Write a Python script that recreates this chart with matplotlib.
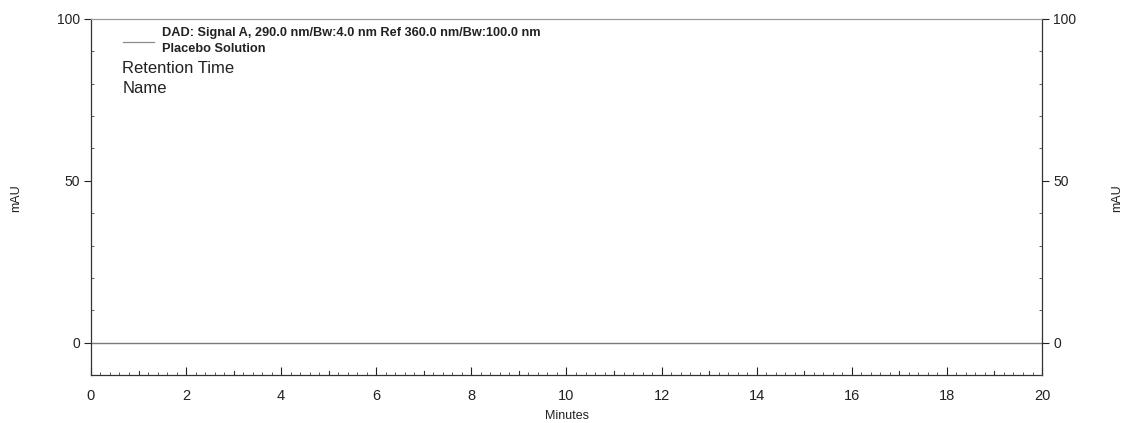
import matplotlib
matplotlib.use("Agg")
import matplotlib.pyplot as plt
from matplotlib.ticker import MultipleLocator
from matplotlib.lines import Line2D

plt.rcParams['font.family'] = ['Liberation Sans', 'DejaVu Sans']

# chromatogram trace (flat baseline, placebo)
time_min = [0.0, 20.0]
signal_mau = [0.0, 0.0]

x_limits = [0, 20]
y_limits = [-10, 100]
y_ticks = [0, 50, 100]
x_ticks = [0, 2, 4, 6, 8, 10, 12, 14, 16, 18, 20]
x_mid_ticks = [1, 3, 5, 7, 9, 11, 13, 15, 17, 19]

legend_signal = "DAD: Signal A, 290.0 nm/Bw:4.0 nm Ref 360.0 nm/Bw:100.0 nm"
legend_sample = "Placebo Solution"
peak_labels = ["Retention Time", "Name"]

fig = plt.figure(figsize=(11.23, 4.23), dpi=100)
ax = fig.add_axes([0.081, 0.1135, 0.8469, 0.8416])

ax.plot(time_min, signal_mau, color='#7a7a7a', lw=1.0)

ax.set_xlim(x_limits)
ax.set_ylim(y_limits)
ax.set_xticks(x_ticks)
ax.xaxis.set_minor_locator(MultipleLocator(0.2))
ax.set_yticks(y_ticks)
ax.yaxis.set_minor_locator(MultipleLocator(10))

ax.tick_params(axis='x', which='major', direction='in', length=5.5, width=0.8,
               labelsize=10.5, pad=10, colors='#222222')
ax.tick_params(axis='x', which='minor', direction='in', length=2.5, width=0.6,
               colors='#444444')
ax.tick_params(axis='y', which='major', direction='out', length=5, width=0.8,
               labelsize=10, pad=3, colors='#222222')
ax.tick_params(axis='y', which='minor', direction='in', length=2, width=0.6,
               colors='#444444')

# odd-minute ticks, a bit longer than the minor ones
for xm in x_mid_ticks:
    ax.plot([xm, xm], [-10, -8.8], color='#333333', lw=0.8, clip_on=False)

for side in ['left', 'bottom', 'right']:
    ax.spines[side].set_color('#333333')
    ax.spines[side].set_linewidth(0.9)
ax.spines['top'].set_color('#9a9a9a')
ax.spines['top'].set_linewidth(0.9)

ax2 = ax.twinx()
ax2.set_ylim(y_limits)
ax2.set_yticks(y_ticks)
ax2.yaxis.set_minor_locator(MultipleLocator(10))
ax2.tick_params(axis='y', which='major', direction='out', length=5, width=0.8,
                labelsize=10, pad=3, colors='#222222')
ax2.tick_params(axis='y', which='minor', direction='in', length=2, width=0.6,
                colors='#444444')
for side in ax2.spines:
    ax2.spines[side].set_visible(False)

# axis titles placed in figure pixels
fig.text(567 / 1123, 1 - 416 / 423, "Minutes", fontsize=9, ha='center',
         va='center', color='#222222')
fig.text(16 / 1123, 1 - 198 / 423, "mAU", fontsize=9, rotation=90,
         ha='center', va='center', color='#222222')
fig.text(1117 / 1123, 1 - 198 / 423, "mAU", fontsize=9, rotation=90,
         ha='center', va='center', color='#222222')

# legend block in the upper-left corner
ax.add_line(Line2D([0.034, 0.066], [0.936, 0.936], transform=ax.transAxes,
                   color='#8a8a8a', lw=0.9))
ax.text(0.0745, 0.962, legend_signal, transform=ax.transAxes, fontsize=9.2,
        fontweight='bold', va='center', ha='left', color='#222222')
ax.text(0.0745, 0.915, legend_sample, transform=ax.transAxes, fontsize=9.2,
        fontweight='bold', va='center', ha='left', color='#222222')
ax.text(0.033, 0.861, peak_labels[0], transform=ax.transAxes, fontsize=12,
        va='center', ha='left', color='#222222')
ax.text(0.033, 0.805, peak_labels[1], transform=ax.transAxes, fontsize=12,
        va='center', ha='left', color='#222222')

fig.savefig("out.png", dpi=100)
